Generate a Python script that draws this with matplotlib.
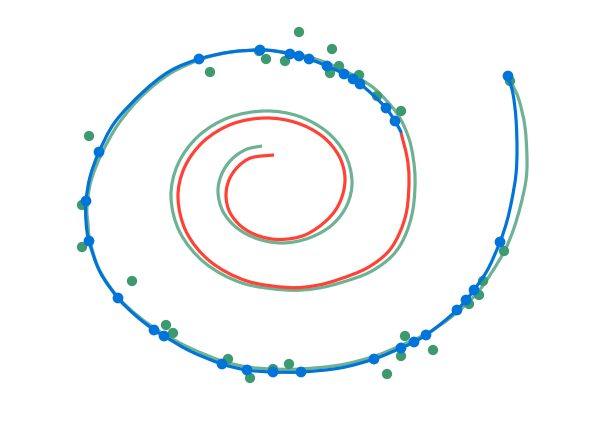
import matplotlib.pyplot as plt
from matplotlib.path import Path
from matplotlib.patches import PathPatch

# all coordinates (pixel space, y down)
true_x = [262, 246, 231.5, 221.5, 218, 223, 237, 258, 283, 309, 332, 347, 352, 345, 326.5,
          298, 265, 229, 198.5, 178, 171, 180, 205, 242, 286, 316, 343, 370, 392, 405, 413,
          415, 411, 404, 396, 386, 375, 362, 345, 327, 309, 290, 262, 232, 202, 171, 143,
          119, 102, 91, 87, 88, 90, 99, 117, 138, 162, 190, 222, 248, 273, 300, 340, 375,
          402, 426, 446, 462, 478, 492, 505, 514, 521, 526, 527, 525, 519, 512, 507]
true_y = [147, 150.5, 160.5, 175.5, 193, 212.5, 229, 240, 244, 239, 226, 206, 182, 155, 132.5,
          117, 112, 118.5, 137, 165, 198, 233.5, 264, 284, 291, 289.5, 283, 273, 257, 237,
          210, 177, 147, 127, 113, 101, 90, 81, 72, 64, 58, 54, 51, 53, 60, 74, 96,
          124, 154, 182, 208, 225, 242, 270, 297, 317, 334, 349, 362, 368, 370, 370, 366, 357,
          346, 335, 322, 309, 293, 273, 251, 229, 205, 181, 160, 128, 101, 85, 77]

inner_x = [274, 251.5, 238, 229, 226, 230, 242, 259, 280, 305, 327, 340, 345, 339, 322, 296,
           265, 232, 203.5, 184.5, 178, 186.5, 210, 246, 288, 316, 340, 367, 388, 400, 407,
           409, 407, 401]
inner_y = [156, 158.7, 167.7, 181, 197, 213.6, 228, 237, 240.5, 236, 221, 203, 180, 157, 137,
           123.6, 119, 125, 142.4, 168.4, 199, 233.3, 262.3, 281.7, 288.5, 286.5, 280, 269,
           253, 233, 210, 180, 158, 134]

outer_x = [401, 395, 386, 373, 360, 344, 327, 309, 299, 290, 275, 260, 230, 199, 170, 143,
           115, 99, 90, 86, 86, 89, 100, 118, 135, 154, 164, 190, 222, 247, 273, 301, 340,
           374, 401, 414, 426, 442, 457, 466, 474, 488, 500, 507, 512, 516, 517, 516, 513, 508]
outer_y = [133, 122, 109, 96, 85, 75, 67, 60, 57, 55, 52, 51, 53, 60, 72, 93,
           123, 153, 178, 202, 222, 242, 273, 299, 316, 331, 337, 352, 365, 371, 373, 373, 369,
           360, 349, 343, 336, 324, 311, 301, 291, 270, 243, 222, 200, 175, 150, 120, 95, 77]

fit_x = [395, 386, 360, 353, 344, 327, 309, 299, 290, 260, 199, 99, 86, 89, 118, 154, 164,
         222, 247, 273, 301, 374, 401, 414, 426, 457, 466, 474, 500, 508]
fit_y = [122, 109, 85, 80, 75, 67, 60, 57, 55, 51, 60, 153, 202, 242, 299, 331, 337,
         365, 371, 373, 373, 360, 349, 343, 336, 311, 301, 291, 243, 77]

obs_x = [299, 332, 210, 266, 285, 259, 339, 330, 359, 377, 401, 89, 82, 82, 132, 166, 173,
         228, 250, 273, 289, 387, 401, 405, 433, 469, 479, 483, 504, 510]
obs_y = [33, 50, 73, 60, 62, 52, 67, 74, 76, 97, 112, 137, 206, 248, 282, 326, 334,
         360, 379, 370, 365, 375, 357, 337, 351, 305, 296, 282, 252, 82]


def smooth_path(xs, ys):
    # cubic bezier segments through the read points (catmull-rom tangents)
    pts = list(zip(xs, ys))
    verts = [pts[0]]
    codes = [Path.MOVETO]
    n = len(pts)
    for i in range(n - 1):
        p0 = pts[max(i - 1, 0)]
        p1 = pts[i]
        p2 = pts[i + 1]
        p3 = pts[min(i + 2, n - 1)]
        c1 = (p1[0] + (p2[0] - p0[0]) / 6, p1[1] + (p2[1] - p0[1]) / 6)
        c2 = (p2[0] - (p3[0] - p1[0]) / 6, p2[1] - (p3[1] - p1[1]) / 6)
        verts += [c1, c2, p2]
        codes += [Path.CURVE4] * 3
    return Path(verts, codes)


fig = plt.figure(figsize=(5.98, 4.27), dpi=100)
ax = fig.add_axes([0, 0, 1, 1])

ax.add_patch(PathPatch(smooth_path(true_x, true_y), fill=False, edgecolor='#3D9970',
                       alpha=0.75, lw=2.3, capstyle='butt', zorder=1))
ax.add_patch(PathPatch(smooth_path(inner_x, inner_y), fill=False, edgecolor='#FF4136',
                       lw=2.3, capstyle='butt', zorder=2))
ax.scatter(obs_x, obs_y, s=55, color='#3D9970', edgecolors='none', zorder=3)
ax.add_patch(PathPatch(smooth_path(outer_x, outer_y), fill=False, edgecolor='#0074D9',
                       lw=2.3, capstyle='round', zorder=4))
ax.scatter(fit_x, fit_y, s=60, color='#0074D9', edgecolors='none', zorder=5)

ax.set_xlim(0, 598)
ax.set_ylim(427, 0)
ax.axis('off')

fig.savefig('out.png', dpi=100)
